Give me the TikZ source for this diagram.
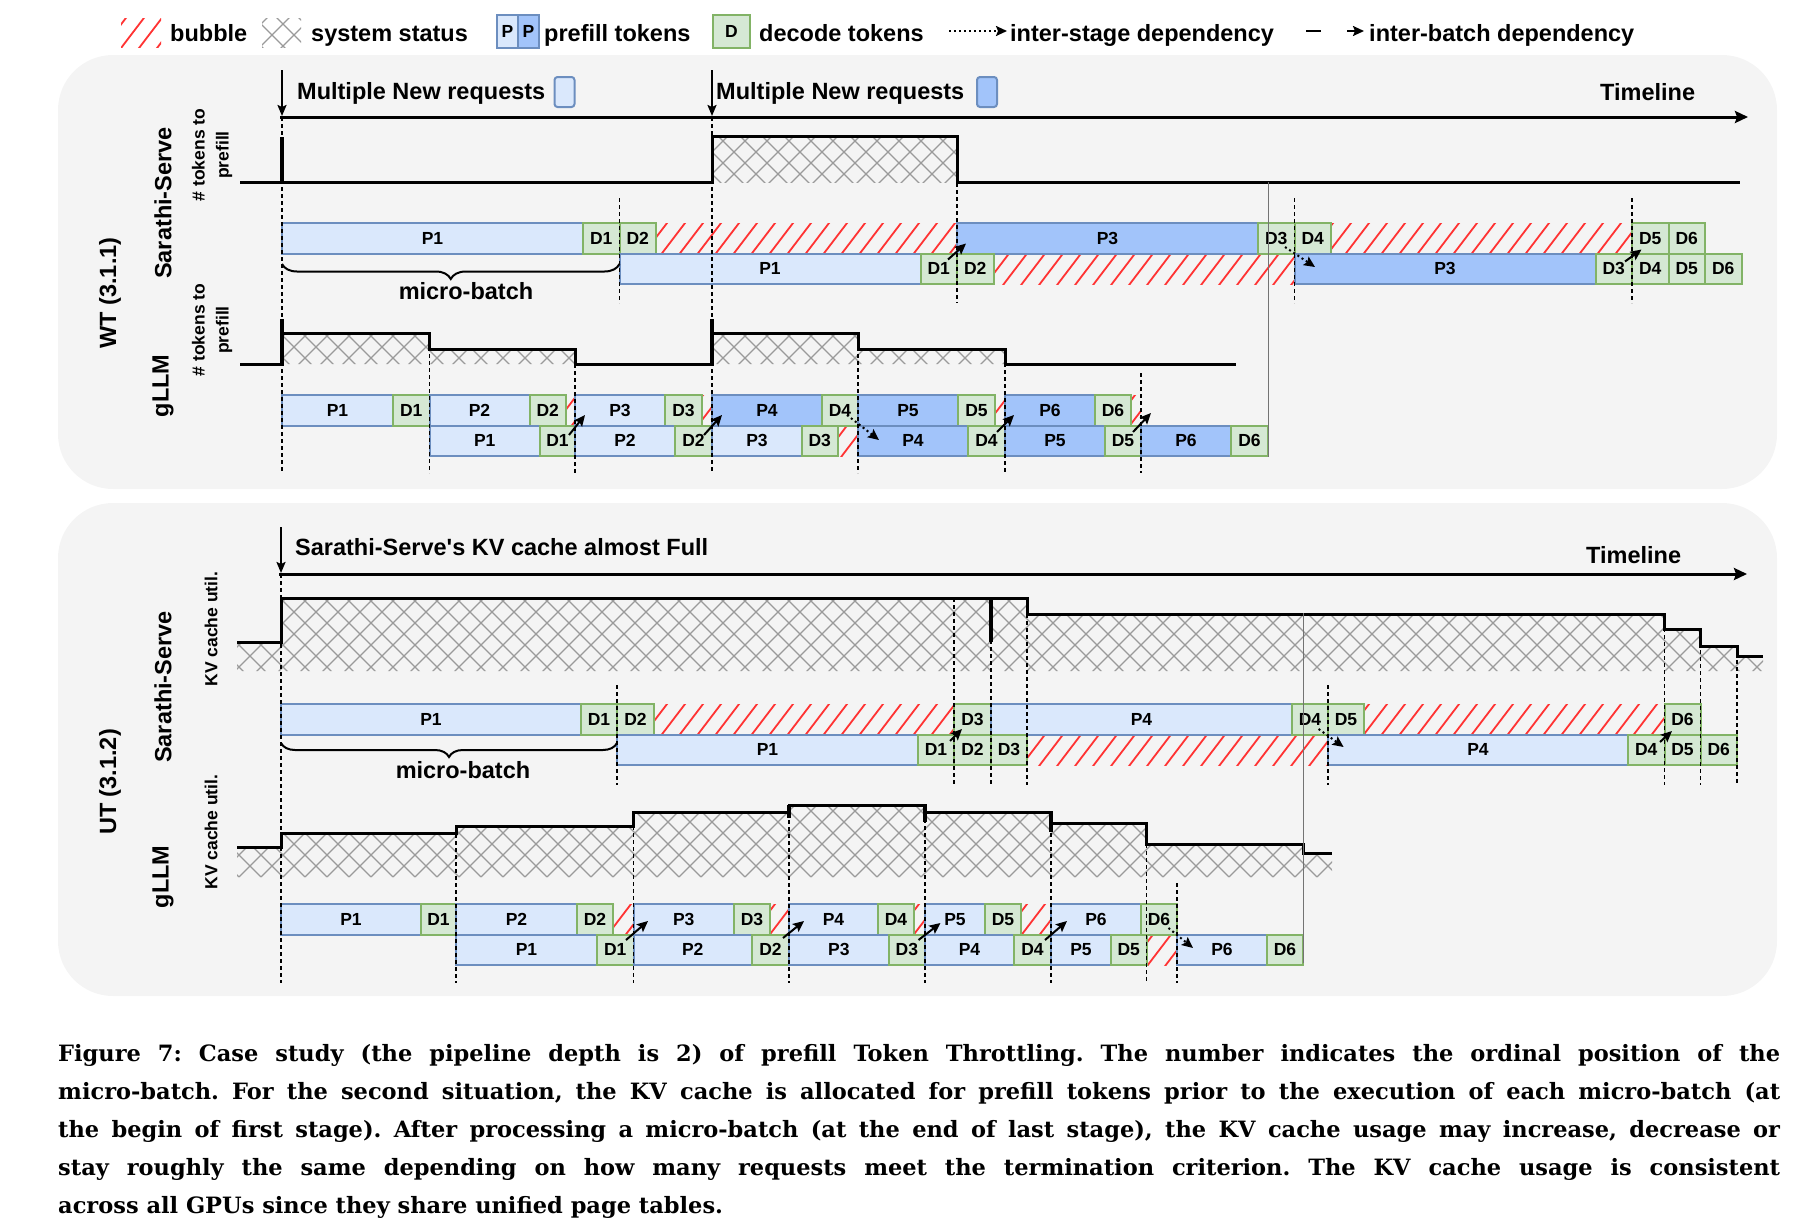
\documentclass[tikz,border=0pt]{standalone}
\usepackage{fontspec}
\usepackage{tikz}
\usetikzlibrary{arrows.meta}
\usetikzlibrary{calc}
\usetikzlibrary{decorations.pathreplacing}
\newfontfamily\diafont{Liberation Sans}
\newfontfamily\capfont{DejaVu Serif}
\definecolor{plight}{HTML}{DAE8FC}
\definecolor{pdark}{HTML}{A2C4FA}
\definecolor{pline}{HTML}{6C8EBF}
\definecolor{dfill}{HTML}{D5E8D4}
\definecolor{dline}{HTML}{82B366}
\definecolor{hatchred}{HTML}{FF3333}
\definecolor{crossgray}{HTML}{9A9A9A}
\definecolor{panelgray}{HTML}{F4F4F4}
\tikzset{
  lbl/.style={font=\diafont\bfseries\fontsize{23.5}{28}\selectfont, inner sep=0pt},
  sml/.style={font=\diafont\bfseries\fontsize{17.5}{24}\selectfont, inner sep=0pt},
  blk/.style={sml, draw, line width=2pt, minimum height=30.5pt, inner sep=0pt, outer sep=0pt, anchor=north west},
  pl/.style={blk, fill=plight, draw=pline},
  pd/.style={blk, fill=pdark, draw=pline},
  dc/.style={blk, fill=dfill, draw=dline},
  panel/.style={fill=panelgray, rounded corners=55pt},
  stepline/.style={line width=3pt},
  vline/.style={line width=1.1pt, dash pattern=on 4pt off 3pt},
  endline/.style={line width=1pt, black!55},
  bubline/.style={hatchred, line width=1.8pt},
  crossline/.style={crossgray, line width=1.3pt},
  batchdep/.style={-{Stealth[length=11pt,width=10pt,inset=2pt]}, line width=2pt},
  stagedep/.style={batchdep, dash pattern=on 2pt off 3pt},
  timeline/.style={-{Stealth[length=13pt,width=12pt,inset=2pt]}, line width=3pt},
  arrival/.style={-{Stealth[length=11pt,width=9pt,inset=2pt]}, line width=2pt},
  capt/.style={font=\capfont\bfseries\fontsize{22.5}{38}\selectfont\frenchspacing, inner sep=0pt, text width=1722pt, align=justify},
}
% token block: style, name, x1, x2, top, label
\newcommand\tok[6]{\node[#1, minimum width={#4-#3}] (#2) at (#3,#5) {#6};}
% red bubble hatch: bottom, clip
\newcommand\bubbles[2]{\begin{scope}\clip #2;\foreach \k in {100,118,...,1800}{\draw[bubline] (\k,#1) -- ++(32,-42);}\end{scope}}
% grey system status hatch: top, clip
\newcommand\xhatch[2]{\begin{scope}\clip #2;\foreach \k in {140,162,...,1900}{\draw[crossline] (\k,#1) -- ++(90,90) (\k,#1) -- ++(-90,90);}\end{scope}}
% dependencies around a junction
\newcommand\bdep[3]{\draw[batchdep] ($(#1)+(#2)$) -- ($(#1)+(#3)$);}
\newcommand\sdep[3]{\draw[stagedep] ($(#1)+(#2)$) -- ($(#1)+(#3)$);}

\begin{document}
\begin{tikzpicture}[x=1pt,y=-1pt]
\useasboundingbox (0,0) rectangle (1804,1226);

% legend
\bubbles{52}{(121,18) rectangle (161,47)}
\node[lbl, anchor=base west] (lgbub) at (170,41) {bubble};
\xhatch{13}{(262,18) rectangle (301,47)}
\node[lbl, anchor=base west] (lgsys) at (311,41) {system status};
\node[pl, minimum width=21pt, minimum height=33pt] (lgp1) at (497,15) {P};
\node[pd, minimum width=21pt, minimum height=33pt] (lgp2) at (518,15) {P};
\node[lbl, anchor=base west] (lgpre) at (544,41) {prefill tokens};
\node[dc, minimum width=37pt, minimum height=33pt] (lgd) at (713,15) {D};
\node[lbl, anchor=base west] (lgdec) at (759,41) {decode tokens};
\coordinate (lgs1) at (949,31); \coordinate (lgs2) at (1007,31);
\draw[stagedep] (lgs1) -- (lgs2);
\node[lbl, anchor=base west] (lgstage) at (1010,41) {inter-stage dependency};
\coordinate (lgb1) at (1306,31); \coordinate (lgb2) at (1364,31);
\draw[batchdep, dash pattern=on 15pt off 26pt] (lgb1) -- (lgb2);
\node[lbl, anchor=base west] (lgbatch) at (1369,41) {inter-batch dependency};

% WT panel
\fill[panel] (58,55) rectangle (1777,489);
\node[lbl, rotate=90] (wtlab) at (110,293) {WT (3.1.1)};
\node[lbl, rotate=90] (wtsar) at (163,203) {Sarathi-Serve};
\node[lbl, rotate=90] (wtgllm) at (163,386) {gLLM};
\node[sml, rotate=90, align=center] (wtsary) at (212,155) {\# tokens to\\prefill};
\node[sml, rotate=90, align=center] (wtgy) at (212,330) {\# tokens to\\prefill};

\coordinate (wta1) at (282,70); \coordinate (wta1e) at (282,116);
\coordinate (wta2) at (712,70); \coordinate (wta2e) at (712,116);
\draw[arrival] (wta1) -- (wta1e);
\draw[arrival] (wta2) -- (wta2e);
\coordinate (wtl0) at (280,117); \coordinate (wtl1) at (1748,117);
\draw[timeline] (wtl0) -- (wtl1);
\node[lbl, anchor=base west] (wtreq1) at (297,99.5) {Multiple New requests};
\node[draw=pline, fill=plight, line width=2pt, rounded corners=3pt, minimum width=20pt, minimum height=30pt, inner sep=0pt] (wtbox1) at (564.5,92) {};
\node[lbl, anchor=base west] (wtreq2) at (716,99.5) {Multiple New requests};
\node[draw=pline, fill=pdark, line width=2pt, rounded corners=3pt, minimum width=20pt, minimum height=30pt, inner sep=0pt] (wtbox2) at (987,92) {};
\node[lbl, anchor=base west] (wttime) at (1600,100) {Timeline};

% WT: tokens to prefill
\xhatch{130}{(712,136) rectangle (957,182)}
\draw[stepline] (240,182) -- (712,182) -- (712,136) -- (957,136) -- (957,182) -- (1740,182);
\draw[line width=3.5pt] (282,137) -- (282,182);
\xhatch{325}{(282,333) -- (429.5,333) -- (429.5,349) -- (575,349) -- (575,364) -- (282,364) -- cycle (712,333) -- (858,333) -- (858,349) -- (1005,349) -- (1005,364) -- (712,364) -- cycle}
\draw[stepline] (240,364) -- (282,364) -- (282,333) -- (429.5,333) -- (429.5,349) -- (575,349) -- (575,364) -- (712,364) -- (712,333) -- (858,333) -- (858,349) -- (1005,349) -- (1005,364) -- (1236,364);
\draw[line width=3.5pt] (282,319) -- (282,364) (712,319) -- (712,364);

% WT: Sarathi-Serve stages
\bubbles{258.5}{(656,223) rectangle (957,253.5) (1331,223) rectangle (1632,253.5)}
\bubbles{289}{(993.5,253.5) rectangle (1294.5,284)}
\foreach \s/\n/\a/\b in {pl/P1/282/583, dc/D1/583/619.5, dc/D2/619.5/656, pd/P3/957/1258, dc/D3/1258/1294.5, dc/D4/1294.5/1331, dc/D5/1632/1668.5, dc/D6/1668.5/1705}
  {\tok{\s}{wsa\n}{\a}{\b}{223}{\n}}
\foreach \s/\n/\a/\b in {pl/P1/619.5/920.5, dc/D1/920.5/957, dc/D2/957/993.5, pd/P3/1294.5/1595.5, dc/D3/1595.5/1632, dc/D4/1632/1668.5, dc/D5/1668.5/1705, dc/D6/1705/1741.5}
  {\tok{\s}{wsb\n}{\a}{\b}{253.5}{\n}}

% WT: gLLM stages
\bubbles{430.5}{(566,395) rectangle (575,425.5) (702,395) rectangle (712,425.5) (995,395) rectangle (1005,425.5) (1131,395) rectangle (1141,425.5)}
\bubbles{461}{(837.5,425.5) rectangle (858,456)}
\foreach \s/\n/\a/\b in {pl/P1/282/393, dc/D1/393/429.5, pl/P2/429.5/529.5, dc/D2/529.5/566, pl/P3/575/665, dc/D3/665/702, pd/P4/712/822, dc/D4/822/858, pd/P5/858/958, dc/D5/958/995, pd/P6/1005/1095, dc/D6/1095/1131}
  {\tok{\s}{wga\n}{\a}{\b}{395}{\n}}
\foreach \s/\n/\a/\b in {pl/P1/429.5/540, dc/D1/540/575, pl/P2/575/675, dc/D2/675/712, pl/P3/712/802, dc/D3/802/837.5, pd/P4/858/968, dc/D4/968/1005, pd/P5/1005/1105, dc/D5/1105/1141, pd/P6/1141/1231, dc/D6/1231/1268}
  {\tok{\s}{wgb\n}{\a}{\b}{425.5}{\n}}

\foreach \x/\ya/\yb in {282/117/473, 712/117/473, 619.5/198/303, 957/183/303, 1294.5/198/303, 1632/198/303, 429.5/333/473, 575/350/473, 858/333/473, 1005/349/473, 1141/373/473}
  {\draw[vline] (\x,\ya) -- (\x,\yb);}
\draw[endline] (1268,182) -- (1268,457);

\draw[decorate, decoration={brace, amplitude=15pt, mirror}, line width=2pt] (282,264) -- (619.5,264);
\node[lbl, anchor=base] (wtmb) at (466,299) {micro-batch};

\bdep{wsbD1.north east}{-9,6}{9,-10}
\sdep{wsaD3.south east}{-9.5,-6.5}{20.5,13.5}
\bdep{wsbD3.north east}{-7,8}{9.5,-4}
\bdep{wgbD1.north east}{-6,9.5}{10,-10.5}
\bdep{wgbD2.north east}{-8,9.5}{10,-10.5}
\sdep{wgaD4.south east}{-11,-10.5}{21,14.5}
\bdep{wgbD4.north east}{-8,6.5}{9,-10.5}
\bdep{wgbD5.north east}{-8,6.5}{10,-12.5}

% UT panel
\fill[panel] (58,503) rectangle (1777,996);
\node[lbl, rotate=90] (utlab) at (110,782) {UT (3.1.2)};
\node[lbl, rotate=90] (utsar) at (163,687) {Sarathi-Serve};
\node[lbl, rotate=90] (utgllm) at (163,877) {gLLM};
\node[sml, rotate=90] (utsary) at (211,629) {KV cache util.};
\node[sml, rotate=90] (utgy) at (211,832) {KV cache util.};

\coordinate (uta1) at (281,527); \coordinate (uta1e) at (281,573);
\draw[arrival] (uta1) -- (uta1e);
\coordinate (utl0) at (279,574); \coordinate (utl1) at (1747,574);
\draw[timeline] (utl0) -- (utl1);
\node[lbl, anchor=base west] (utfull) at (295,555) {Sarathi-Serve's KV cache almost Full};
\node[lbl, anchor=base west] (uttime) at (1586,563) {Timeline};

% UT: KV cache utilisation
\xhatch{590}{(237,642) -- (281,642) -- (281,598) -- (1027,598) -- (1027,614) -- (1664.5,614) -- (1664.5,629) -- (1700.5,629) -- (1700.5,646) -- (1737,646) -- (1737,656) -- (1763,656) -- (1763,671) -- (237,671) -- cycle}
\draw[stepline] (237,642) -- (281,642) -- (281,598) -- (1027,598) -- (1027,614) -- (1664.5,614) -- (1664.5,629) -- (1700.5,629) -- (1700.5,646) -- (1737,646) -- (1737,656) -- (1763,656);
\draw[line width=4pt] (991,598) -- (991,642);
\xhatch{800}{(237,847) -- (281,847) -- (281,833) -- (456,833) -- (456,826) -- (633.5,826) -- (633.5,812) -- (789,812) -- (789,805) -- (925,805) -- (925,812) -- (1051,812) -- (1051,823) -- (1146.5,823) -- (1146.5,844) -- (1303,844) -- (1303,853) -- (1332,853) -- (1332,877) -- (237,877) -- cycle}
\draw[stepline] (237,847) -- (281,847) -- (281,833) -- (456,833) -- (456,826) -- (633.5,826) -- (633.5,812) -- (789,812) -- (789,805) -- (925,805) -- (925,812) -- (1051,812) -- (1051,823) -- (1146.5,823) -- (1146.5,844) -- (1303,844) -- (1303,853) -- (1332,853);
\draw[line width=3.5pt] (789,805) -- (789,818) (925,805) -- (925,822) (1051,812) -- (1051,832);

% UT: Sarathi-Serve stages
\bubbles{739.5}{(654,704) rectangle (954,734.5) (1364,704) rectangle (1664.5,734.5)}
\bubbles{770}{(1027,734.5) rectangle (1328,765)}
\foreach \s/\n/\a/\b in {pl/P1/281/581, dc/D1/581/617, dc/D2/617/654, dc/D3/954/991, pl/P4/991/1292, dc/D4/1292/1328, dc/D5/1328/1364, dc/D6/1664.5/1700.5}
  {\tok{\s}{usa\n}{\a}{\b}{704}{\n}}
\foreach \s/\n/\a/\b in {pl/P1/617/918, dc/D1/918/954, dc/D2/954/991, dc/D3/991/1027, pl/P4/1328/1628, dc/D4/1628/1664.5, dc/D5/1664.5/1700.5, dc/D6/1700.5/1737}
  {\tok{\s}{usb\n}{\a}{\b}{734.5}{\n}}

% UT: gLLM stages
\bubbles{939.5}{(613,904) rectangle (633.5,934.5) (770,904) rectangle (789,934.5) (914,904) rectangle (925,934.5) (1021,904) rectangle (1051,934.5)}
\bubbles{970}{(1146.5,934.5) rectangle (1177,965)}
\foreach \s/\n/\a/\b in {pl/P1/281/421, dc/D1/421/456, pl/P2/456/577, dc/D2/577/613, pl/P3/633.5/734, dc/D3/734/770, pl/P4/789/878, dc/D4/878/914, pl/P5/925/985, dc/D5/985/1021, pl/P6/1051/1141, dc/D6/1141/1177}
  {\tok{\s}{uga\n}{\a}{\b}{904}{\n}}
\foreach \s/\n/\a/\b in {pl/P1/456/597, dc/D1/597/633.5, pl/P2/633.5/752, dc/D2/752/789, pl/P3/789/888.6, dc/D3/888.6/925, pl/P4/925/1014, dc/D4/1014/1051, pl/P5/1051/1111, dc/D5/1111/1146.5, pl/P6/1177/1267, dc/D6/1267/1303}
  {\tok{\s}{ugb\n}{\a}{\b}{934.5}{\n}}

\foreach \x/\ya/\yb in {281/574/983, 617/685/785, 954/598/785, 991/598/785, 1027/600/785, 1328/685/785, 1664.5/614/785, 1700.5/629/785, 1737/646/785, 456/827/983, 633.5/812/983, 789/806/983, 925/805/983, 1051/812/983, 1146.5/823/983, 1177/883/983}
  {\draw[vline] (\x,\ya) -- (\x,\yb);}
\draw[endline] (1303,613) -- (1303,963);

\draw[decorate, decoration={brace, amplitude=14pt, mirror}, line width=2pt] (281,743) -- (617,743);
\node[lbl, anchor=base] (utmb) at (463,778) {micro-batch};

\bdep{usbD1.north east}{-4,6.5}{8,-5.5}
\sdep{usaD4.south east}{-9.4,-5.5}{15.6,12.5}
\bdep{usbD4.north east}{-4.5,7.5}{7.5,-3.5}
\bdep{ugbD1.north east}{-7.5,5.5}{14.5,-13.5}
\bdep{ugbD2.north east}{-6,3.5}{15,-13.5}
\bdep{ugbD3.north east}{-6.5,5.5}{15.5,-11.5}
\bdep{ugbD4.north east}{-6,5.5}{16,-13.5}
\sdep{ugaD6.south east}{-8.5,-6.5}{16,13.5}

% caption
\node[capt, anchor=north west] (cap) at (58,1044) {Figure 7: Case study (the pipeline depth is 2) of prefill Token Throttling. The number indicates the ordinal position of the\linebreak micro-batch. For the second situation, the KV cache is allocated for prefill tokens prior to the execution of each micro-batch (at\linebreak the begin of first stage). After processing a micro-batch (at the end of last stage), the KV cache usage may increase, decrease or\linebreak stay roughly the same depending on how many requests meet the termination criterion. The KV cache usage is consistent\linebreak across all GPUs since they share unified page tables.};
\end{tikzpicture}
\end{document}
